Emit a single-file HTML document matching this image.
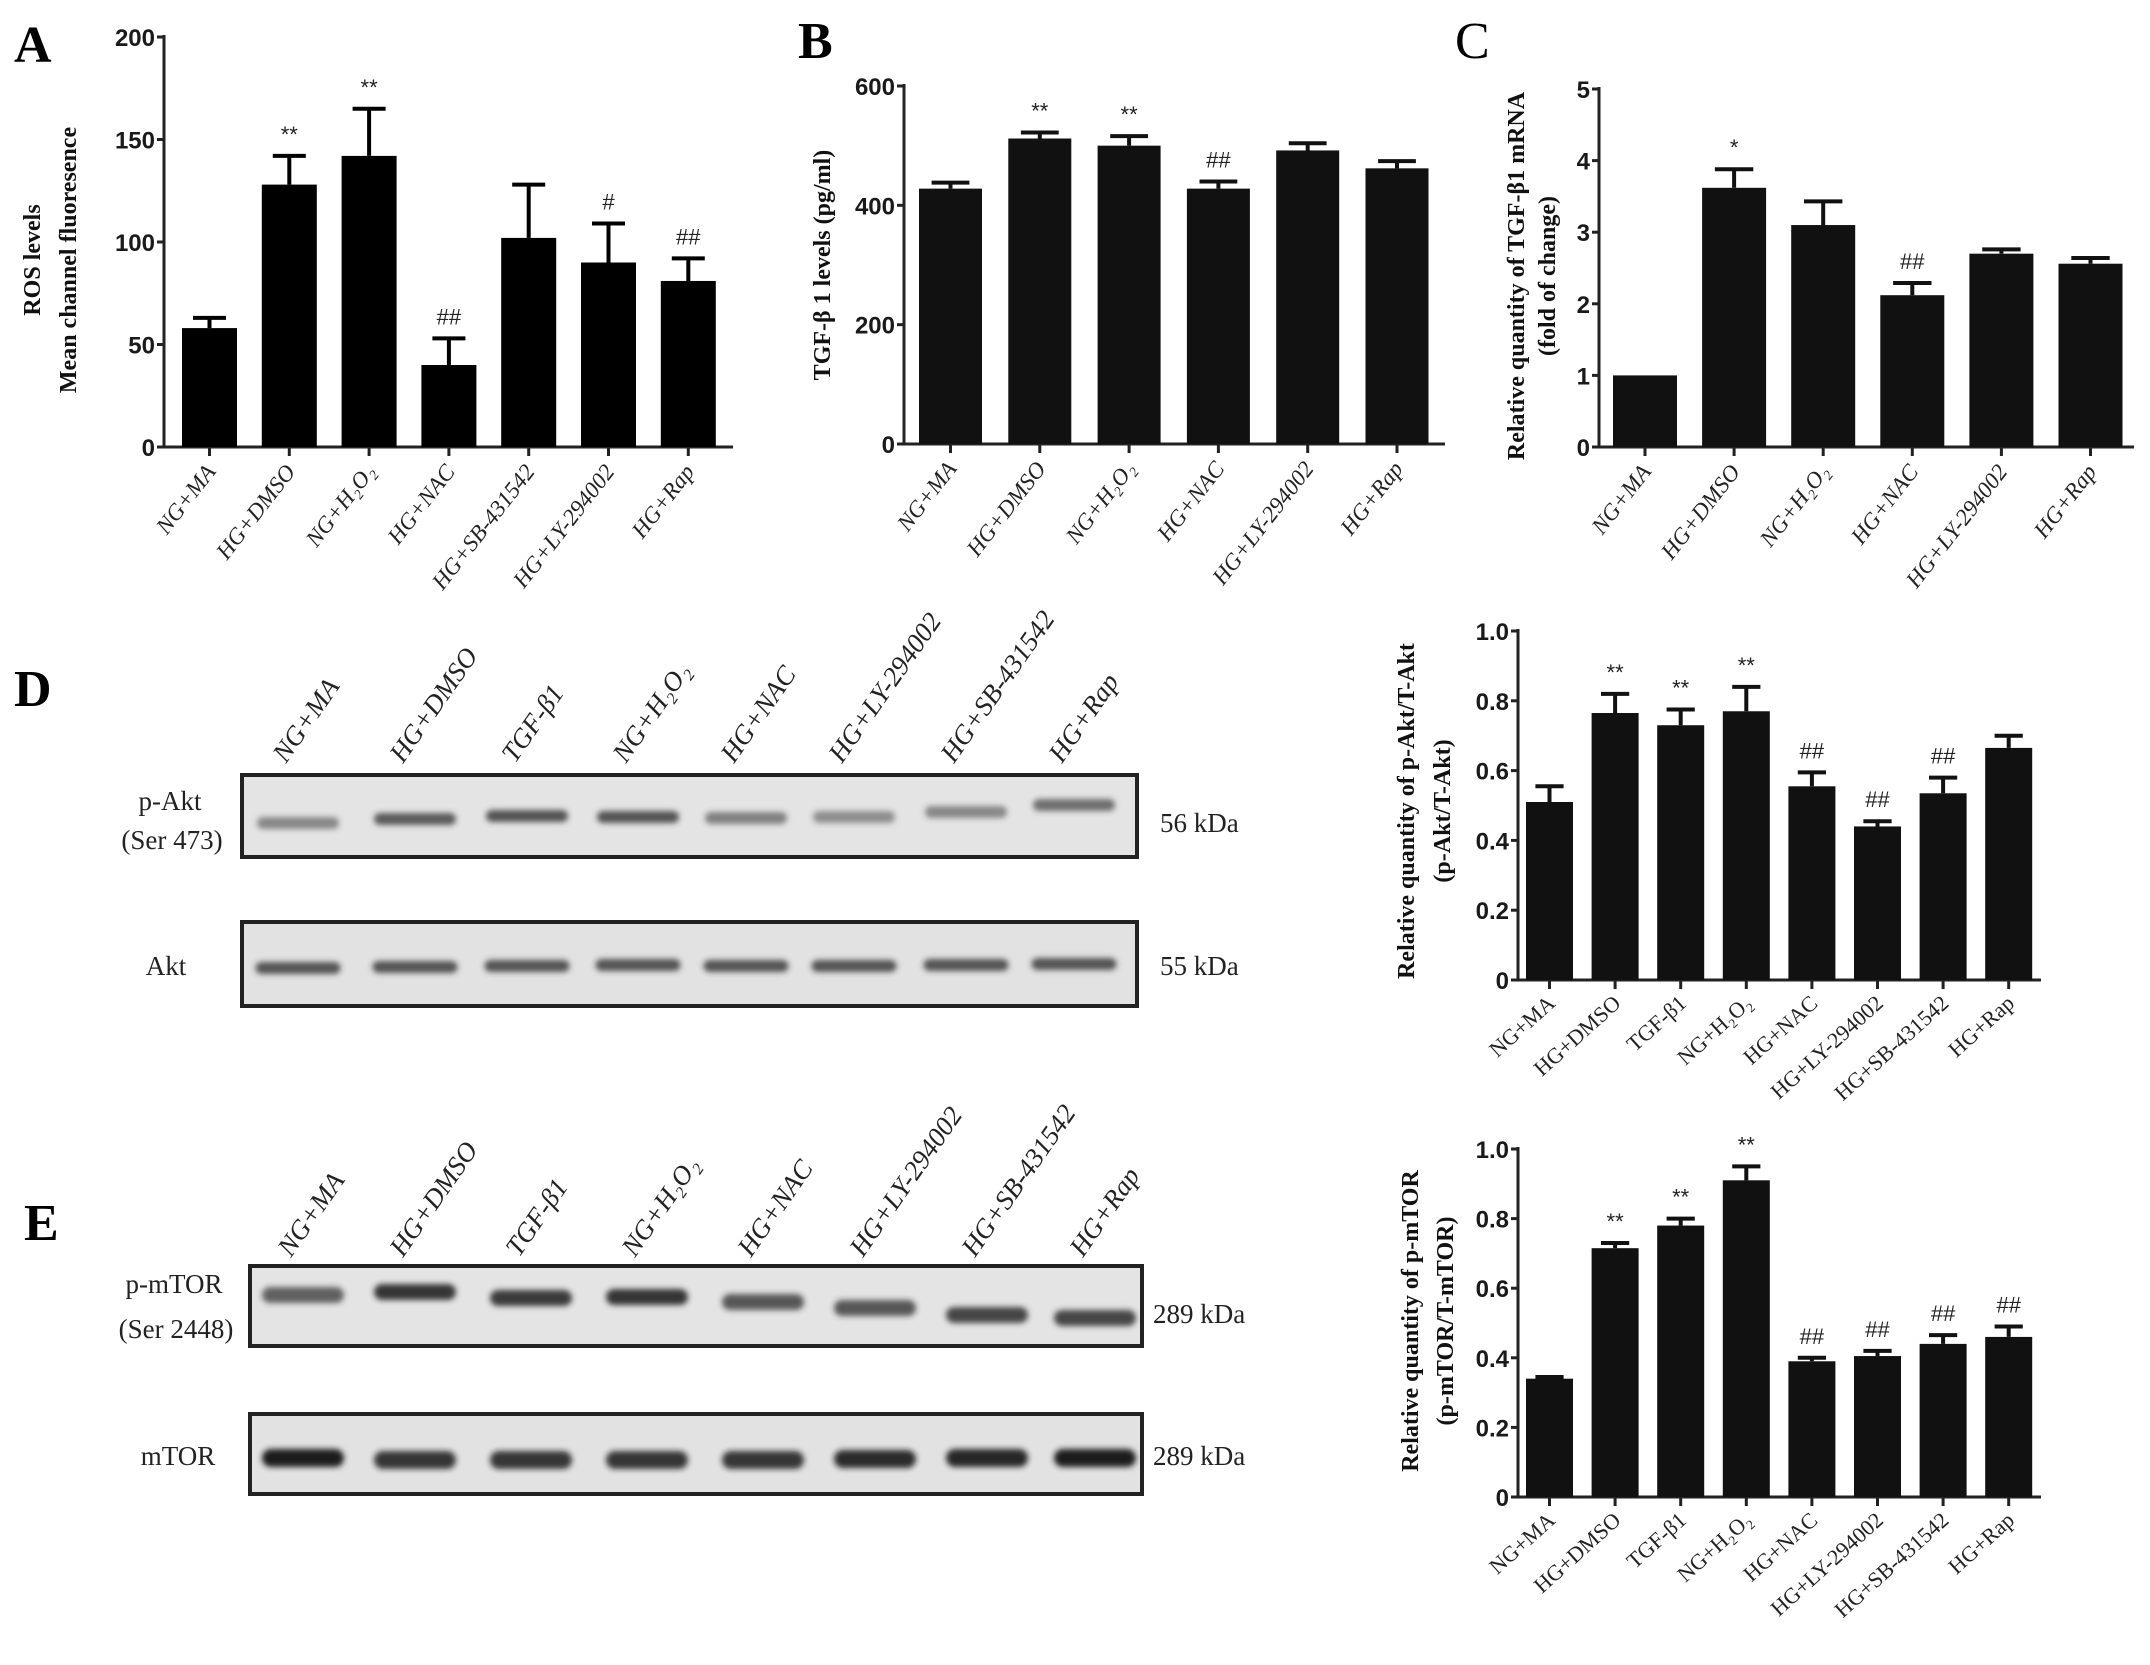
<!DOCTYPE html>
<html><head><meta charset="utf-8"><style>
html,body{margin:0;padding:0;background:#fff;}
svg{display:block;}
.tick{font-family:"Liberation Sans",sans-serif;font-weight:bold;font-size:24px;fill:#1a1a1a;}
.xl{font-family:"Liberation Serif",serif;font-size:23px;fill:#222;}
.xl2{font-family:"Liberation Serif",serif;font-size:22px;fill:#222;}
.yt{font-family:"Liberation Serif",serif;font-weight:bold;font-size:24px;fill:#111;}
.mk{font-family:"Liberation Sans",sans-serif;font-size:22px;fill:#222;}
.pl{font-family:"Liberation Serif",serif;font-weight:bold;font-size:52px;fill:#000;}
.bl{font-family:"Liberation Serif",serif;font-size:27px;fill:#222;}
.ll{font-family:"Liberation Serif",serif;font-style:italic;font-size:27px;fill:#222;}
</style></head><body>
<svg id="fig" width="2150" height="1665" viewBox="0 0 2150 1665" xmlns="http://www.w3.org/2000/svg">
<defs>
<filter id="blur3" x="-20%" y="-200%" width="140%" height="500%"><feGaussianBlur stdDeviation="3"/></filter>
</defs>
<text class="pl" x="14" y="62">A</text>
<text class="pl" x="798" y="58">B</text>
<text class="pl" x="1455" y="58" style="font-weight:normal">C</text>
<text class="pl" x="14" y="706">D</text>
<text class="pl" x="24" y="1240">E</text>

<text class="yt" transform="translate(40,260) rotate(-90)" text-anchor="middle">ROS levels</text>
<text class="yt" transform="translate(76,260) rotate(-90)" text-anchor="middle">Mean channel fluoresence</text>
<text class="yt" transform="translate(830,265) rotate(-90)" text-anchor="middle">TGF-β 1 levels (pg/ml)</text>
<text class="yt" transform="translate(1524,276) rotate(-90)" text-anchor="middle">Relative quantity of TGF-β1 mRNA</text>
<text class="yt" transform="translate(1555,276) rotate(-90)" text-anchor="middle">(fold of change)</text>
<text class="yt" transform="translate(1414,811) rotate(-90)" text-anchor="middle">Relative quantity of p-Akt/T-Akt</text>
<text class="yt" transform="translate(1450,811) rotate(-90)" text-anchor="middle">(p-Akt/T-Akt)</text>
<text class="yt" transform="translate(1418,1321) rotate(-90)" text-anchor="middle">Relative quantity of p-mTOR</text>
<text class="yt" transform="translate(1453,1321) rotate(-90)" text-anchor="middle">(p-mTOR/T-mTOR)</text>

<g>
<rect x="242" y="775" width="895" height="82" fill="#e4e4e4" stroke="#222" stroke-width="4"/>
<g id="bandsPAkt" filter="url(#blur3)" fill="#3a3a3a"></g>
</g>
<g>
<rect x="242" y="922" width="895" height="84" fill="#e2e2e2" stroke="#222" stroke-width="4"/>
<g id="bandsAkt" filter="url(#blur3)" fill="#2e2e2e"></g>
</g>
<text class="bl" x="170" y="810" text-anchor="middle">p-Akt</text>
<text class="bl" x="172" y="849" text-anchor="middle">(Ser 473)</text>
<text class="bl" x="166" y="975" text-anchor="middle">Akt</text>
<text class="bl" x="1160" y="832">56 kDa</text>
<text class="bl" x="1160" y="975">55 kDa</text>

<g>
<rect x="250" y="1266" width="892" height="80" fill="#e4e4e4" stroke="#222" stroke-width="4"/>
<g id="bandsPMtor" filter="url(#blur3)" fill="#2a2a2a"></g>
</g>
<g>
<rect x="250" y="1414" width="892" height="80" fill="#e2e2e2" stroke="#222" stroke-width="4"/>
<g id="bandsMtor" filter="url(#blur3)" fill="#1a1a1a"></g>
</g>
<text class="bl" x="174" y="1293" text-anchor="middle">p-mTOR</text>
<text class="bl" x="176" y="1338" text-anchor="middle">(Ser 2448)</text>
<text class="bl" x="178" y="1465" text-anchor="middle">mTOR</text>
<text class="bl" x="1153" y="1323">289 kDa</text>
<text class="bl" x="1153" y="1465">289 kDa</text>
</svg>
<script>
const catsA = ["NG+MA","HG+DMSO","NG+H₂O₂","HG+NAC","HG+SB-431542","HG+LY-294002","HG+Rap"];
const valsA = [58,128,142,40,102,90,81];
const errA  = [63,142,165,53,128,109,92];
const marksA = ["","**","**","##","","#","##"];
const ticksA = [0,50,100,150,200];

const catsB = ["NG+MA","HG+DMSO","NG+H₂O₂","HG+NAC","HG+LY-294002","HG+Rap"];
const valsB = [428,512,500,428,492,462];
const errB  = [438,522,516,440,504,474];
const marksB = ["","**","**","##","",""];
const ticksB = [0,200,400,600];

const catsC = ["NG+MA","HG+DMSO","NG+H₂O₂","HG+NAC","HG+LY-294002","HG+Rap"];
const valsC = [1.0,3.62,3.1,2.12,2.7,2.56];
const errC  = [1.0,3.88,3.43,2.29,2.76,2.64];
const marksC = ["","*","","##","",""];
const ticksC = [0,1,2,3,4,5];

const catsD = ["NG+MA","HG+DMSO","TGF-β1","NG+H₂O₂","HG+NAC","HG+LY-294002","HG+SB-431542","HG+Rap"];
const valsD = [0.51,0.765,0.73,0.77,0.555,0.44,0.535,0.665];
const errD  = [0.555,0.82,0.775,0.84,0.595,0.455,0.58,0.70];
const marksD = ["","**","**","**","##","##","##",""];
const ticksD = [0,0.2,0.4,0.6,0.8,1.0];
const tickLabD = ["0","0.2","0.4","0.6","0.8","1.0"];

const catsE = ["NG+MA","HG+DMSO","TGF-β1","NG+H₂O₂","HG+NAC","HG+LY-294002","HG+SB-431542","HG+Rap"];
const valsE = [0.34,0.715,0.78,0.91,0.39,0.405,0.44,0.46];
const errE  = [0.345,0.73,0.80,0.95,0.40,0.42,0.465,0.49];
const marksE = ["","**","**","**","##","##","##","##"];
const ticksE = [0,0.2,0.4,0.6,0.8,1.0];

const blotLanes = ["NG+MA","HG+DMSO","TGF-β1","NG+H₂O₂","HG+NAC","HG+LY-294002","HG+SB-431542","HG+Rap"];
const pAktInt = [0.55,0.8,0.85,0.85,0.6,0.5,0.55,0.7];
const aktInt  = [0.8,0.8,0.8,0.8,0.8,0.8,0.8,0.8];
const pMtorInt = [0.7,0.95,0.9,0.95,0.75,0.75,0.85,0.85];
const mtorInt  = [1,0.85,0.85,0.85,0.85,0.9,0.95,1];

const NS="http://www.w3.org/2000/svg";
const svg=document.getElementById('fig');
function mk(tag,attrs,parent){const e=document.createElementNS(NS,tag);for(const k in attrs)e.setAttribute(k,attrs[k]);(parent||svg).appendChild(e);return e;}

function chart(id,cfg,cats,vals,errs,marks,ticks,tickLabs){
  const g=mk('g',{});
  
  
  const y=v=>cfg.y0-(v/cfg.max)*(cfg.y0-cfg.y1);
  const x=i=>cfg.c0+i*cfg.step;
  const ax=mk('line',{x1:cfg.ax,y1:cfg.y1-2,x2:cfg.ax,y2:cfg.y0,stroke:'#222','stroke-width':3},g);
  
  
  const xa=mk('line',{x1:cfg.ax,y1:cfg.y0,x2:cfg.end,y2:cfg.y0,stroke:'#222','stroke-width':3},g);
  
  
  ticks.forEach((t,k)=>{
    mk('line',{x1:cfg.ax-7,y1:y(t),x2:cfg.ax,y2:y(t),stroke:'#222','stroke-width':3},g);
    const tl=mk('text',{x:cfg.ax-9,y:y(t)+9,'text-anchor':'end',class:'tick'},g);
    tl.textContent=tickLabs?tickLabs[k]:String(t);
    
    
  });
  vals.forEach((v,i)=>{
    const cx=x(i);
    const b=mk('rect',{x:cx-cfg.bw/2,y:y(v),width:cfg.bw,height:cfg.y0-y(v),fill:cfg.fill},g);
    
    
    if(errs[i]>v){
      const e=mk('path',{d:`M${cx},${y(v)} V${y(errs[i])} M${cx-cfg.bw*0.3},${y(errs[i])} H${cx+cfg.bw*0.3}`,stroke:cfg.fill,'stroke-width':4,fill:'none'},g);
      
      
    }
    if(marks[i]){
      const m=mk('text',{x:cx,y:y(errs[i])-14,'text-anchor':'middle',class:'mk'},g);
      m.textContent=marks[i];
      
      
    }
    mk('line',{x1:cx,y1:cfg.y0,x2:cx,y2:cfg.y0+9,stroke:'#222','stroke-width':3},g);
    const lx=cx+7, ly=cfg.y0+25;
    const t=mk('text',{x:lx,y:ly,'text-anchor':'end',class:cfg.italic?'xl':'xl2',transform:`rotate(${cfg.rot} ${lx} ${ly})`,style:cfg.italic?'font-style:italic':''},g);
    t.textContent=cats[i];
    
    
  });
}
chart('a',{ax:164,end:733,y0:447,y1:37,max:200,c0:209.5,step:79.8,bw:55,fill:'#000',rot:-52,italic:true},catsA,valsA,errA,marksA,ticksA);
chart('b',{ax:904,end:1445,y0:444,y1:86,max:600,c0:950.5,step:89.3,bw:63,fill:'#111',rot:-52,italic:true},catsB,valsB,errB,marksB,ticksB);
chart('c',{ax:1599,end:2134,y0:447,y1:89,max:5,c0:1645,step:89.1,bw:64,fill:'#111',rot:-52,italic:true},catsC,valsC,errC,marksC,ticksC);
chart('d',{ax:1518,end:2041,y0:980,y1:631,max:1,c0:1549.5,step:65.6,bw:47,fill:'#111',rot:-42,italic:false},catsD,valsD,errD,marksD,ticksD,tickLabD);
chart('e',{ax:1518,end:2041,y0:1497,y1:1149,max:1,c0:1549.5,step:65.6,bw:47,fill:'#111',rot:-42,italic:false},catsE,valsE,errE,marksE,ticksE,tickLabD);

function bands(gid,centers,ys,ints,w,h,name){
  const g=document.getElementById(gid);
  centers.forEach((c,i)=>{
    const r=mk('rect',{x:c-w/2,y:ys[i]-h/2,width:w,height:h,rx:h/2,'fill-opacity':ints[i]},g);
    
    
  });
}
const dC=[298,415,527,638,746,854,966,1074];
bands('bandsPAkt',dC,[823,819,816,817,818,817,812,805],pAktInt,82,12,'p-akt');
bands('bandsAkt',dC,[968,967,966,965,966,966,965,964],aktInt,85,12,'akt');
const eC=[303,415,531,647,763,875,987,1095];
bands('bandsPMtor',eC,[1295,1292,1298,1297,1302,1308,1315,1318],pMtorInt,82,16,'p-mtor');
bands('bandsMtor',eC,[1458,1460,1460,1460,1460,1459,1458,1458],mtorInt,82,18,'mtor');

function laneLabels(centers,baseY,prefix){
  centers.forEach((c,i)=>{
    const lx=c-12, ly=baseY;
    const t=mk('text',{x:lx,y:ly,class:'ll',transform:`rotate(-55 ${lx} ${ly})`});
    t.textContent=blotLanes[i];
    
    
  });
}
laneLabels(dC,764,'d');
laneLabels(eC,1258,'e');
</script>
</body></html>
